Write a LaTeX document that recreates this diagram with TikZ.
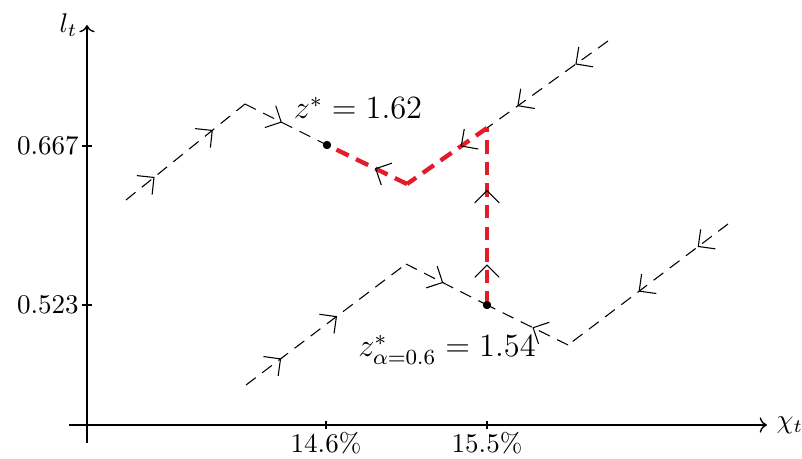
\documentclass[tikz,border=0pt]{standalone}
\usepackage{amsmath}
\usepackage{amssymb}
\usepackage{tikz}
\usetikzlibrary{arrows.meta,decorations.markings}
\definecolor{pathred}{RGB}{226,28,42}
\tikzstyle{pt} = [circle, minimum width=3pt, fill, inner sep=0pt]
\tikzstyle{traj} = [line width=0.4pt, dash pattern=on 4.5pt off 3pt]
\tikzstyle{opt} = [pathred, line width=1.6pt, dash pattern=on 5pt off 3pt]
\tikzset{flow/.tip={Straight Barb[length=4.5pt,width=9pt]},
  arr/.style={postaction={decorate,decoration={markings,
      mark=at position #1 with {\arrow[black,solid,line width=0.4pt]{flow}}}}},
  arrs/.style 2 args={postaction={decorate,decoration={markings,
      mark=at position #1 with {\arrow[black,solid,line width=0.4pt]{flow}},
      mark=at position #2 with {\arrow[black,solid,line width=0.4pt]{flow}}}}}}

\begin{document}
\begin{tikzpicture}[x=0.013cm,y=-0.013cm]
\useasboundingbox (0,0) rectangle (802,459);
\draw[->,line width=0.5pt] (69,425) -- (767,425) node[right] (chi) {$\chi_t$};
    \draw[->,line width=0.5pt] (87,443) -- (87,25) node[left] (lt) {$l_t$};

\foreach \y/\lab in {146/0.667, 305/0.523} {
    \draw (82,\y) -- (92,\y) node[pos=0,left,inner sep=1pt] (ty\y) {$\lab$};
}
\foreach \x/\lab in {326/14.6, 487/15.5} {
    \draw (\x,421) -- (\x,429) node[below,inner sep=1pt] (tx\x) {$\lab\%$};
}

% upper branch
\coordinate (U0) at (126,200);
\coordinate (U1) at (245,104);
\node[pt] (zs) at (327,145) {};
\coordinate (U2) at (407,184);
\coordinate (U3) at (487,128);
\coordinate (U4) at (608,41);

% lower branch
\coordinate (L0) at (246,385);
\coordinate (L1) at (406,264);
\node[pt] (za) at (487,305) {};
\coordinate (L2) at (568,345);
\coordinate (L3) at (728,224);

\draw[traj, arrs={0.24}{0.73}] (U0) -- (U1);
\draw[traj, arr=0.45] (U1) -- (zs.center);
\draw[traj, arrs={0.27}{0.75}] (U4) -- (U3);
\draw[traj, arrs={0.22}{0.57}] (L0) -- (L1);
\draw[traj, arr=0.46] (L1) -- (za.center);
\draw[traj, arr=0.44] (L2) -- (za.center);
\draw[traj, arrs={0.19}{0.56}] (L3) -- (L2);

    \draw[opt, arr=0.4] (U2) -- (zs.center);
    \draw[opt, arr=0.33] (U3) -- (U2);
    \draw[opt, arrs={0.23}{0.65}] (za.center) -- (U3);

\node[pt] (zs2) at (zs) {};
\node[pt] (za2) at (za) {};

\node (lab1) at (358,108) {\large $z^* = 1.62$};
\node (lab2) at (447,350) {\large $z^*_{\alpha=0.6} = 1.54$};
\end{tikzpicture}
\end{document}
